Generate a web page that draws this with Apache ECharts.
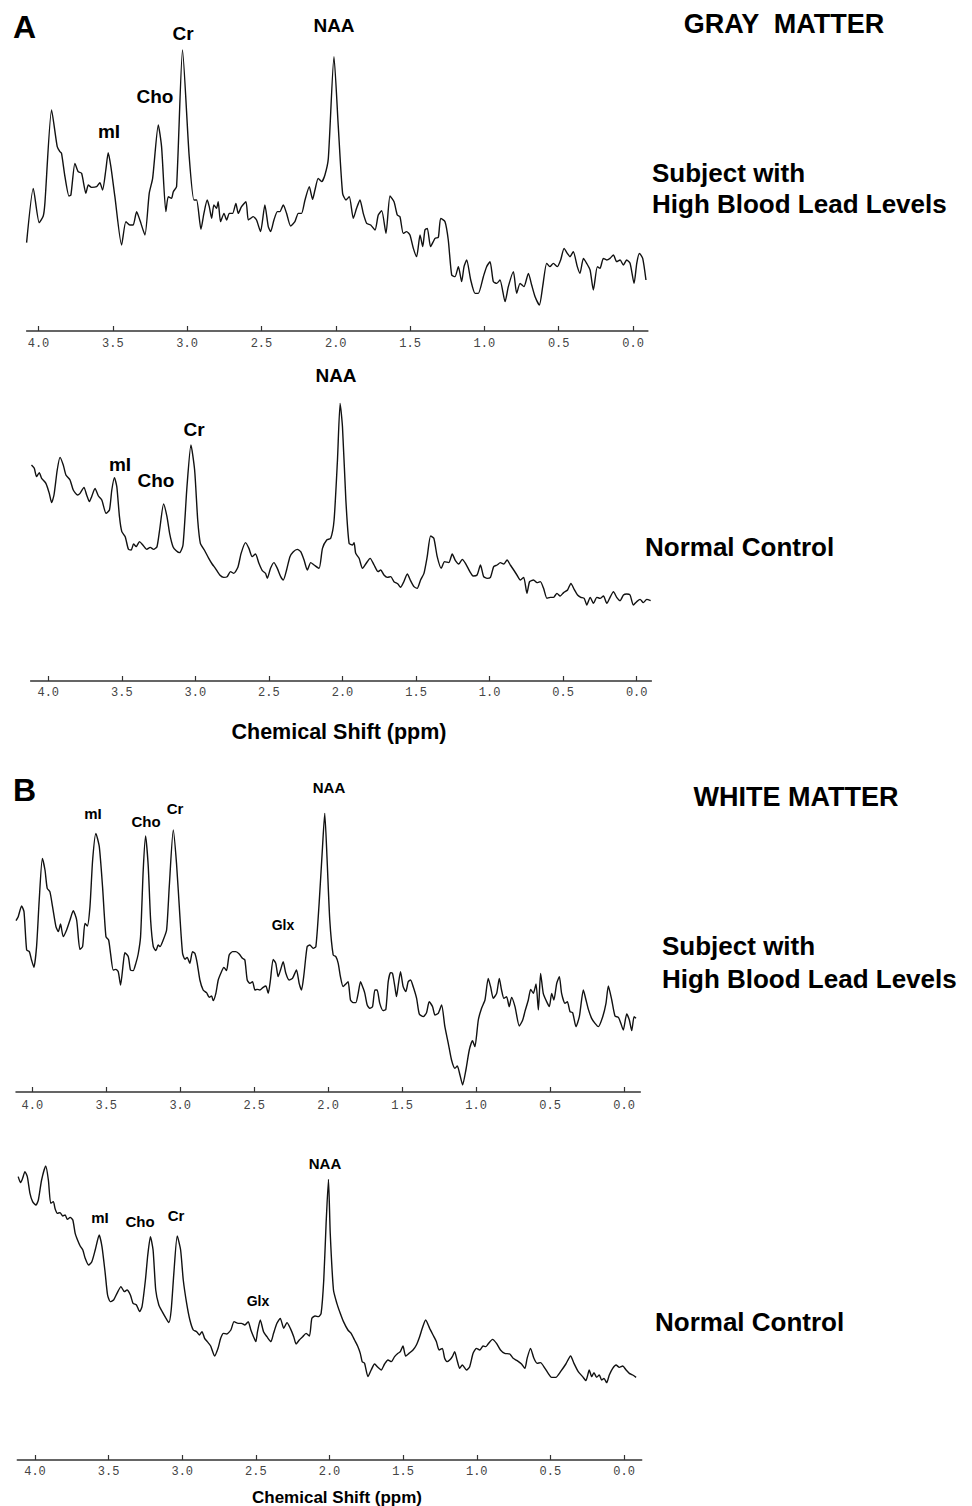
<!DOCTYPE html>
<html>
<head>
<meta charset="utf-8">
<script src="https://cdn.jsdelivr.net/npm/echarts@6/dist/echarts.min.js"></script>
<style>
  html, body { margin: 0; background: #fff; }
  #spectra { width: 972px; height: 1506px; }
</style>
</head>
<body>
<div id="spectra"></div>
<script>
// ppm tick values shared by all four spectra
const ppmTicks = [0, 0.5, 1.0, 1.5, 2.0, 2.5, 3.0, 3.5, 4.0];

// A: gray matter, subject with high blood lead levels  [ppm, intensity (a.u.)]
const grayLead = [
  [4.080,265],[4.035,428],[3.995,325],[3.968,345],[3.957,383],[3.912,663],[3.874,553],[3.856,538],[3.845,533],[3.822,463],
  [3.795,405],[3.782,408],[3.755,503],[3.733,478],[3.710,473],[3.681,413],[3.665,438],[3.643,431],[3.609,433],[3.587,445],
  [3.569,423],[3.547,483],[3.531,535],[3.513,493],[3.486,403],[3.441,258],[3.412,328],[3.385,318],[3.363,318],[3.340,358],
  [3.318,333],[3.284,288],[3.255,413],[3.232,458],[3.194,618],[3.172,553],[3.143,358],[3.127,403],[3.105,398],[3.093,418],
  [3.071,433],[3.031,843],[2.986,523],[2.954,393],[2.936,393],[2.907,305],[2.887,353],[2.865,393],[2.851,373],[2.835,338],
  [2.820,378],[2.802,368],[2.791,388],[2.775,328],[2.752,353],[2.734,333],[2.716,353],[2.694,353],[2.672,383],[2.656,353],
  [2.634,373],[2.604,388],[2.589,333],[2.573,338],[2.555,343],[2.533,333],[2.506,298],[2.477,378],[2.454,313],[2.438,298],
  [2.416,333],[2.393,358],[2.376,358],[2.353,378],[2.331,353],[2.304,315],[2.275,328],[2.252,353],[2.230,353],[2.207,393],
  [2.178,433],[2.156,395],[2.140,423],[2.118,458],[2.095,448],[2.073,468],[2.050,518],[2.012,823],[1.983,613],[1.954,413],
  [1.931,393],[1.909,403],[1.882,338],[1.860,368],[1.837,393],[1.815,353],[1.792,323],[1.765,318],[1.736,303],[1.714,348],
  [1.691,361],[1.662,293],[1.635,405],[1.608,388],[1.586,348],[1.568,343],[1.546,293],[1.523,298],[1.501,288],[1.478,248],
  [1.456,223],[1.433,288],[1.415,253],[1.400,303],[1.384,308],[1.362,253],[1.332,278],[1.310,281],[1.294,338],[1.265,328],
  [1.243,273],[1.220,168],[1.198,163],[1.175,193],[1.153,148],[1.137,193],[1.119,213],[1.092,153],[1.063,113],[1.041,113],
  [1.007,163],[0.985,193],[0.962,208],[0.940,148],[0.917,143],[0.895,153],[0.861,88],[0.839,133],[0.805,178],[0.783,113],
  [0.760,143],[0.734,133],[0.704,173],[0.682,138],[0.659,103],[0.630,78],[0.608,133],[0.581,203],[0.559,193],[0.536,203],
  [0.509,193],[0.487,213],[0.464,248],[0.442,233],[0.424,223],[0.402,238],[0.375,193],[0.357,173],[0.334,218],[0.312,203],
  [0.289,183],[0.267,123],[0.240,193],[0.222,188],[0.200,218],[0.177,213],[0.155,218],[0.132,228],[0.110,208],[0.087,213],
  [0.065,198],[0.043,213],[0.020,203],[-0.007,143],[-0.025,203],[-0.043,233],[-0.065,218],[-0.087,153]
];

// A: gray matter, normal control
const grayControl = [
  [4.114,648],[4.095,638],[4.080,613],[4.061,625],[4.045,608],[4.016,593],[3.993,563],[3.977,535],[3.961,558],[3.939,633],
  [3.920,671],[3.898,648],[3.880,618],[3.852,603],[3.830,573],[3.802,558],[3.784,563],[3.757,581],[3.739,558],[3.720,538],
  [3.705,553],[3.682,578],[3.659,555],[3.636,543],[3.607,503],[3.584,513],[3.568,573],[3.550,610],[3.534,583],[3.516,493],
  [3.500,448],[3.477,433],[3.455,395],[3.436,393],[3.420,411],[3.402,403],[3.380,418],[3.357,408],[3.330,395],[3.307,401],
  [3.284,395],[3.261,403],[3.243,453],[3.216,531],[3.193,493],[3.175,443],[3.152,403],[3.130,391],[3.107,385],[3.084,408],
  [3.057,583],[3.030,708],[3.005,633],[2.984,483],[2.966,413],[2.939,393],[2.909,368],[2.886,351],[2.864,338],[2.834,318],
  [2.807,311],[2.784,313],[2.761,328],[2.739,323],[2.711,341],[2.689,383],[2.659,415],[2.636,398],[2.614,373],[2.591,381],
  [2.568,353],[2.545,331],[2.523,323],[2.511,308],[2.489,338],[2.466,355],[2.443,338],[2.420,313],[2.402,303],[2.380,333],
  [2.357,373],[2.334,388],[2.307,395],[2.284,388],[2.261,363],[2.239,333],[2.216,355],[2.193,348],[2.159,338],[2.136,398],
  [2.107,423],[2.080,428],[2.057,483],[2.034,663],[2.016,833],[2.000,763],[1.977,543],[1.955,413],[1.932,408],[1.921,415],
  [1.910,383],[1.887,368],[1.864,338],[1.842,351],[1.812,368],[1.785,348],[1.758,328],[1.740,333],[1.718,318],[1.695,311],
  [1.672,313],[1.650,298],[1.623,291],[1.605,281],[1.586,295],[1.559,321],[1.537,301],[1.514,283],[1.492,278],[1.469,303],
  [1.446,323],[1.424,373],[1.401,435],[1.379,428],[1.356,373],[1.329,338],[1.306,358],[1.277,355],[1.254,381],[1.232,361],
  [1.209,351],[1.186,365],[1.164,353],[1.134,328],[1.112,315],[1.085,318],[1.062,348],[1.040,313],[1.017,308],[0.994,311],
  [0.972,343],[0.949,348],[0.927,355],[0.904,351],[0.881,363],[0.859,348],[0.836,333],[0.814,318],[0.791,303],[0.768,311],
  [0.746,263],[0.728,298],[0.701,303],[0.678,295],[0.655,298],[0.633,278],[0.610,248],[0.588,251],[0.565,251],[0.542,263],
  [0.520,255],[0.497,265],[0.470,273],[0.447,293],[0.425,275],[0.402,258],[0.380,251],[0.357,248],[0.339,228],[0.316,251],
  [0.294,233],[0.271,251],[0.249,248],[0.226,255],[0.203,233],[0.181,251],[0.158,268],[0.136,251],[0.113,241],[0.090,258],
  [0.068,261],[0.045,258],[0.023,228],[0.000,238],[-0.023,245],[-0.045,235],[-0.068,245],[-0.095,241]
];

// B: white matter, subject with high blood lead levels
const whiteLead = [
  [4.110,514],[4.095,526],[4.072,558],[4.056,541],[4.038,426],[4.020,421],[4.005,396],[3.989,374],[3.971,436],[3.953,576],
  [3.932,701],[3.914,666],[3.899,611],[3.881,601],[3.863,556],[3.840,496],[3.824,481],[3.809,504],[3.791,466],[3.768,486],
  [3.745,516],[3.723,544],[3.700,516],[3.678,428],[3.660,436],[3.644,506],[3.628,498],[3.610,556],[3.592,696],[3.570,776],
  [3.547,736],[3.525,616],[3.502,466],[3.484,456],[3.471,416],[3.453,366],[3.435,368],[3.419,361],[3.403,321],[3.385,386],
  [3.374,418],[3.351,406],[3.336,366],[3.318,364],[3.300,386],[3.284,414],[3.268,466],[3.250,666],[3.234,768],[3.216,676],
  [3.200,516],[3.182,436],[3.164,424],[3.149,441],[3.137,436],[3.115,456],[3.092,486],[3.074,616],[3.047,786],[3.025,686],
  [3.002,526],[2.984,416],[2.968,398],[2.953,404],[2.935,386],[2.917,421],[2.901,416],[2.885,386],[2.867,336],[2.845,306],
  [2.822,298],[2.804,284],[2.788,288],[2.777,274],[2.759,296],[2.743,336],[2.721,361],[2.705,374],[2.687,364],[2.669,411],
  [2.646,421],[2.624,421],[2.601,414],[2.579,401],[2.563,396],[2.547,336],[2.529,326],[2.511,331],[2.495,306],[2.480,308],
  [2.462,306],[2.439,314],[2.421,318],[2.405,296],[2.390,336],[2.372,398],[2.354,386],[2.338,346],[2.322,366],[2.304,391],
  [2.286,356],[2.264,336],[2.241,341],[2.214,366],[2.196,326],[2.180,306],[2.164,351],[2.142,436],[2.124,441],[2.101,431],
  [2.083,436],[2.061,566],[2.038,736],[2.023,836],[2.007,696],[1.989,516],[1.966,411],[1.948,406],[1.932,386],[1.917,346],
  [1.899,316],[1.881,324],[1.865,331],[1.849,276],[1.831,268],[1.813,268],[1.797,296],[1.781,331],[1.763,311],[1.752,296],
  [1.736,261],[1.718,251],[1.700,256],[1.684,306],[1.669,306],[1.651,266],[1.628,244],[1.610,248],[1.594,331],[1.578,358],
  [1.565,356],[1.549,316],[1.538,286],[1.526,321],[1.511,361],[1.493,316],[1.475,301],[1.459,331],[1.443,336],[1.425,316],
  [1.402,281],[1.384,234],[1.357,226],[1.335,238],[1.317,271],[1.294,256],[1.278,231],[1.256,236],[1.233,261],[1.211,196],
  [1.188,146],[1.166,96],[1.143,71],[1.127,78],[1.109,51],[1.091,21],[1.069,66],[1.046,126],[1.024,154],[1.008,136],
  [0.985,216],[0.963,251],[0.940,276],[0.918,341],[0.902,316],[0.884,281],[0.861,296],[0.843,341],[0.828,306],[0.812,281],
  [0.794,286],[0.776,256],[0.760,284],[0.737,256],[0.708,198],[0.685,216],[0.670,241],[0.647,276],[0.631,308],[0.613,296],
  [0.595,324],[0.579,246],[0.564,356],[0.546,296],[0.528,276],[0.505,256],[0.489,296],[0.474,276],[0.455,326],[0.437,346],
  [0.422,296],[0.399,266],[0.383,271],[0.365,241],[0.347,238],[0.325,196],[0.302,226],[0.275,306],[0.257,276],[0.241,248],
  [0.219,221],[0.196,206],[0.174,196],[0.144,226],[0.122,266],[0.106,318],[0.083,276],[0.061,228],[0.038,224],[0.023,208],
  [0.005,186],[-0.018,234],[-0.036,216],[-0.052,184],[-0.068,226],[-0.081,221]
];

// B: white matter, normal control
const whiteControl = [
  [4.114,850],[4.098,832],[4.084,845],[4.068,865],[4.052,850],[4.034,800],[4.016,775],[3.993,765],[3.977,780],[3.955,840],
  [3.927,882],[3.909,840],[3.893,770],[3.875,775],[3.864,755],[3.848,740],[3.830,742],[3.811,732],[3.795,735],[3.780,722],
  [3.761,728],[3.743,720],[3.727,680],[3.711,660],[3.693,642],[3.675,630],[3.659,605],[3.636,585],[3.614,595],[3.591,630],
  [3.564,675],[3.545,640],[3.523,560],[3.507,495],[3.489,475],[3.466,480],[3.443,500],[3.416,520],[3.393,505],[3.375,510],
  [3.352,495],[3.334,470],[3.311,465],[3.289,445],[3.273,460],[3.250,540],[3.234,615],[3.216,670],[3.198,630],[3.180,510],
  [3.159,465],[3.136,445],[3.114,428],[3.091,412],[3.075,450],[3.057,560],[3.034,672],[3.011,630],[2.993,540],[2.970,470],
  [2.948,420],[2.925,390],[2.902,385],[2.884,375],[2.866,385],[2.848,365],[2.830,355],[2.807,342],[2.780,312],[2.757,335],
  [2.739,365],[2.720,380],[2.698,378],[2.670,390],[2.648,415],[2.620,410],[2.598,410],[2.575,405],[2.552,415],[2.534,390],
  [2.516,370],[2.500,355],[2.489,385],[2.470,420],[2.448,385],[2.425,370],[2.398,355],[2.380,380],[2.357,410],[2.334,425],
  [2.311,395],[2.289,412],[2.266,395],[2.243,370],[2.227,348],[2.205,360],[2.182,370],[2.159,380],[2.136,372],[2.120,425],
  [2.098,432],[2.075,430],[2.057,440],[2.039,540],[2.023,710],[2.007,842],[1.995,680],[1.973,510],[1.950,470],[1.927,440],
  [1.905,415],[1.875,390],[1.853,380],[1.830,360],[1.807,340],[1.791,320],[1.778,295],[1.762,290],[1.739,250],[1.717,270],
  [1.694,288],[1.671,278],[1.649,270],[1.626,288],[1.603,300],[1.580,295],[1.558,310],[1.535,320],[1.519,325],[1.501,342],
  [1.483,312],[1.460,320],[1.433,330],[1.410,345],[1.388,370],[1.370,395],[1.347,420],[1.320,395],[1.297,375],[1.274,355],
  [1.256,330],[1.234,335],[1.218,305],[1.202,295],[1.184,300],[1.166,310],[1.150,325],[1.134,300],[1.116,275],[1.098,285],
  [1.070,270],[1.048,280],[1.025,320],[1.002,335],[0.980,330],[0.957,342],[0.939,340],[0.923,348],[0.893,362],[0.866,350],
  [0.839,330],[0.810,320],[0.776,318],[0.753,305],[0.726,298],[0.696,288],[0.673,275],[0.658,305],[0.635,335],[0.612,305],
  [0.590,290],[0.567,292],[0.537,275],[0.515,260],[0.492,248],[0.463,248],[0.431,265],[0.395,288],[0.363,312],[0.340,290],
  [0.311,265],[0.281,250],[0.259,238],[0.236,270],[0.220,250],[0.204,262],[0.186,248],[0.168,255],[0.152,240],[0.136,245],
  [0.118,232],[0.100,255],[0.077,275],[0.054,285],[0.032,278],[0.009,282],[-0.014,270],[-0.036,260],[-0.059,255],[-0.082,248]
];

const font = "'Liberation Sans', Arial, sans-serif";

// one entry per spectrum: where it sits on the page and its axis range
const panels = [
  { data: grayLead,     grid: { left: 26.6, top: 40,   width: 621.3, height: 291 }, xMin: -0.1,  xMax: 4.08, yMax: 873, margin: 7 },
  { data: grayControl,  grid: { left: 30.6, top: 381,  width: 620.8, height: 300 }, xMin: -0.1,  xMax: 4.12, yMax: 900, margin: 6 },
  { data: whiteLead,    grid: { left: 16.0, top: 792,  width: 624.3, height: 300 }, xMin: -0.11, xMax: 4.11, yMax: 900, margin: 8 },
  { data: whiteControl, grid: { left: 17.3, top: 1160, width: 624.4, height: 300 }, xMin: -0.12, xMax: 4.12, yMax: 900, margin: 6 }
];

function txt(text, x, y, size, align) {
  return {
    type: "text",
    x: x,
    y: y,
    style: {
      text: text,
      fill: "#000",
      font: "bold " + size + "px " + font,
      align: align || "center",
      verticalAlign: "middle"
    }
  };
}

const chartDom = document.getElementById("spectra");
const myChart = echarts.init(chartDom, null, { renderer: "svg" });

const option = {
  animation: false,
  backgroundColor: "#fff",
  grid: panels.map((p) => ({
    left: p.grid.left,
    top: p.grid.top,
    width: p.grid.width,
    height: p.grid.height,
    containLabel: false,
    outerBoundsMode: "none"
  })),
  xAxis: panels.map((p, i) => ({
    type: "value",
    gridIndex: i,
    inverse: true,
    min: p.xMin,
    max: p.xMax,
    axisLine: { lineStyle: { color: "#333", width: 1.5 } },
    axisTick: { inside: true, length: 5, lineStyle: { color: "#333", width: 1.2 }, customValues: ppmTicks },
    axisLabel: {
      customValues: ppmTicks,
      margin: p.margin,
      color: "#444",
      fontFamily: "'Liberation Mono', 'DejaVu Sans Mono', monospace",
      fontSize: 12,
      formatter: (v) => v.toFixed(1)
    },
    splitLine: { show: false }
  })),
  yAxis: panels.map((p, i) => ({
    type: "value",
    gridIndex: i,
    min: 0,
    max: p.yMax,
    show: false
  })),
  series: panels.map((p, i) => ({
    type: "line",
    xAxisIndex: i,
    yAxisIndex: i,
    data: p.data,
    showSymbol: false,
    symbol: "none",
    smooth: 0.2,
    lineStyle: { color: "#111", width: 1.4 }
  })),
  graphic: [
    // panel A
    txt("A", 13, 27, 32, "left"),
    txt("GRAY  MATTER", 784, 24, 27),
    txt("Subject with", 652, 173, 26, "left"),
    txt("High Blood Lead Levels", 652, 204, 26, "left"),
    txt("Cr", 183, 33, 19),
    txt("Cho", 155, 96, 19),
    txt("mI", 109, 131, 19),
    txt("NAA", 334, 25, 19),
    txt("NAA", 336, 375, 19),
    txt("Cr", 194, 429, 19),
    txt("mI", 120, 464, 19),
    txt("Cho", 156, 480, 19),
    txt("Normal Control", 645, 547, 26, "left"),
    txt("Chemical Shift (ppm)", 339, 732, 21.5),
    // panel B
    txt("B", 13, 790, 32, "left"),
    txt("WHITE MATTER", 796, 797, 27),
    txt("Subject with", 662, 946, 26, "left"),
    txt("High Blood Lead Levels", 662, 979, 26, "left"),
    txt("NAA", 329, 787, 15),
    txt("mI", 93, 813, 15),
    txt("Cho", 146, 821, 15),
    txt("Cr", 175, 808, 15),
    txt("Glx", 283, 925, 14),
    txt("NAA", 325, 1163, 15),
    txt("mI", 100, 1217, 15),
    txt("Cho", 140, 1221, 15),
    txt("Cr", 176, 1215, 15),
    txt("Glx", 258, 1301, 14),
    txt("Normal Control", 655, 1322, 26, "left"),
    txt("Chemical Shift (ppm)", 337, 1497, 17)
  ]
};

option && myChart.setOption(option);
</script>
</body>
</html>
